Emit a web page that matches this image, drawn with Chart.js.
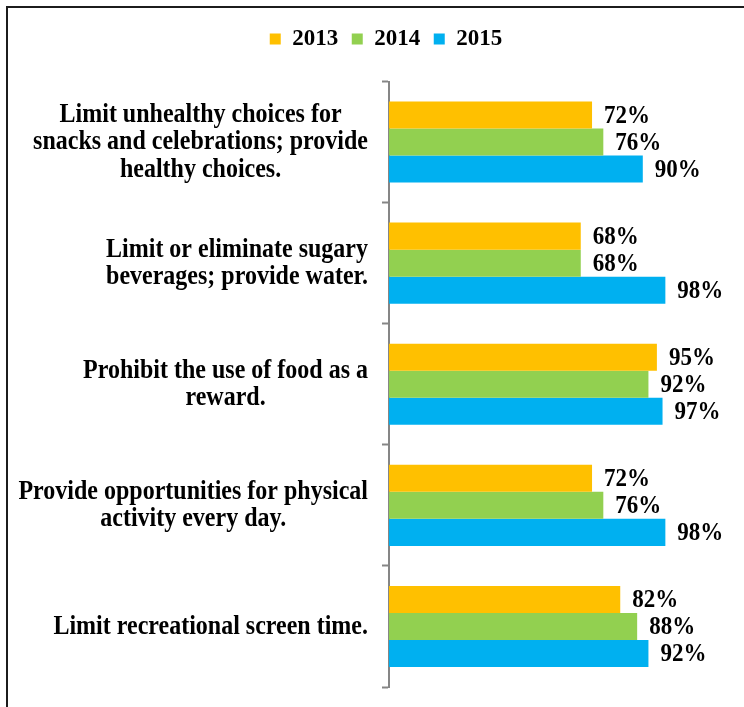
<!DOCTYPE html>
<html>
<head>
<meta charset="utf-8">
<script src="https://cdn.jsdelivr.net/npm/chart.js@4.4.1/dist/chart.umd.min.js"></script>
<style>
  html, body { margin: 0; padding: 0; background: #fff; overflow: hidden; }
  #frame {
    position: absolute; left: 6px; top: 6px;
    width: 760px; height: 720px;
    border-top: 2px solid #1c1c1c; border-left: 2px solid #1c1c1c;
  }
</style>
</head>
<body>
<div id="frame"><canvas id="chart" width="736" height="699"></canvas></div>
<script>
const categories = [
  ["Limit unhealthy choices for", "snacks and celebrations; provide", "healthy choices."],
  ["Limit or eliminate sugary", "beverages; provide water."],
  ["Prohibit the use of food as a", "reward."],
  ["Provide opportunities for physical", "activity every day."],
  ["Limit recreational screen time."]
];
const years = ["2013", "2014", "2015"];
const values2013 = [72, 68, 95, 72, 82];
const values2014 = [76, 68, 92, 76, 88];
const values2015 = [90, 98, 97, 98, 92];
const colors = ["#FFC000", "#92D050", "#00B0F0"];

const FONT = "'Liberation Serif', 'Times New Roman', serif";

// extra gap between legend and plot
const legendGap = {
  id: 'legendGap',
  beforeInit(chart) {
    const fit = chart.legend.fit;
    chart.legend.fit = function () {
      fit.call(this);
      this.height += 21;
    };
  }
};

// draw text slightly stretched vertically (tall bold serif look)
function tallText(ctx, text, x, y, sy) {
  ctx.save();
  ctx.translate(x, y);
  ctx.scale(1, sy);
  ctx.fillText(text, 0, 0);
  ctx.restore();
}

// category labels: block right-aligned to the axis, lines centred within the block
const categoryLabels = {
  id: 'categoryLabels',
  afterDraw(chart) {
    const {ctx} = chart;
    const yScale = chart.scales.y;
    const right = 360;
    const lineH = 27.5;
    ctx.save();
    ctx.font = `bold 24px ${FONT}`;
    ctx.fillStyle = '#000';
    ctx.textAlign = 'center';
    ctx.textBaseline = 'middle';
    categories.forEach((lines, i) => {
      const y = yScale.getPixelForTick(i);
      const w = Math.max(...lines.map(l => ctx.measureText(l).width));
      const cx = right - w / 2;
      const y0 = y - (lines.length - 1) * lineH / 2;
      lines.forEach((l, j) => tallText(ctx, l, cx, y0 + j * lineH, 1.18));
    });
    ctx.restore();
  }
};

// percentage labels at bar ends
const valueLabels = {
  id: 'valueLabels',
  afterDatasetsDraw(chart) {
    const {ctx} = chart;
    ctx.save();
    ctx.font = `bold 23px ${FONT}`;
    ctx.fillStyle = '#000';
    ctx.textAlign = 'left';
    ctx.textBaseline = 'middle';
    chart.data.datasets.forEach((ds, di) => {
      chart.getDatasetMeta(di).data.forEach((bar, i) => {
        tallText(ctx, ds.data[i] + '%', bar.x + 12, bar.y + 1, 1.1);
      });
    });
    ctx.restore();
  }
};

new Chart(document.getElementById('chart'), {
  type: 'bar',
  data: {
    labels: categories,
    datasets: [
      {label: years[0], data: values2013, backgroundColor: colors[0]},
      {label: years[1], data: values2014, backgroundColor: colors[1]},
      {label: years[2], data: values2015, backgroundColor: colors[2]}
    ]
  },
  options: {
    indexAxis: 'y',
    responsive: false,
    animation: false,
    datasets: {
      bar: {categoryPercentage: 0.67, barPercentage: 1.0}
    },
    layout: {
      padding: {left: 93, right: 73, top: 6, bottom: 20}
    },
    scales: {
      x: {
        display: false,
        min: 0,
        max: 100
      },
      y: {
        offset: true,
        afterFit: s => { s.width = 288; },
        grid: {
          offset: true,
          drawOnChartArea: false,
          drawTicks: true,
          tickLength: 7,
          tickWidth: 2,
          color: '#868686'
        },
        border: {display: true, color: '#868686', width: 2},
        ticks: {display: false}
      }
    },
    plugins: {
      legend: {
        position: 'top',
        labels: {
          boxWidth: 11,
          boxHeight: 11,
          padding: 13.5,
          color: '#000',
          font: {family: FONT, size: 23, weight: 'bold'}
        }
      },
      tooltip: {enabled: false}
    }
  },
  plugins: [legendGap, categoryLabels, valueLabels]
});
</script>
</body>
</html>
